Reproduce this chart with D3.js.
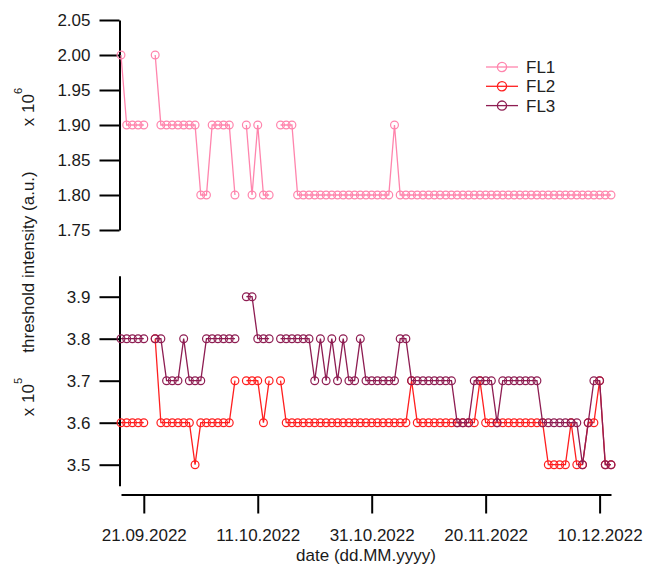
<!DOCTYPE html>
<html>
<head>
<meta charset="utf-8">
<script src="https://cdn.jsdelivr.net/npm/d3@7"></script>
<style>
  body { margin: 0; background: #fff; }
  svg { display: block; font-family: "Liberation Sans", Arial, sans-serif; }
  .axis path, .axis line { stroke: #000; stroke-width: 2; }
  .axis text { fill: #1a1a1a; font-size: 17px; }
</style>
</head>
<body>
<svg class="chart" width="645" height="567"></svg>
<script>
// one reading per day, 17.09.2022 .. 12.12.2022 (null = no measurement)
var firstDay = new Date(2022, 8, 17);
var lastDay = new Date(2022, 11, 12);
var days = d3.timeDay.range(firstDay, d3.timeDay.offset(lastDay, 1));

// FL1, x 10^6
var fl1 = [
  2.00, 1.90, 1.90, 1.90, 1.90, null, 2.00, 1.90, 1.90, 1.90,
  1.90, 1.90, 1.90, 1.90, 1.80, 1.80, 1.90, 1.90, 1.90, 1.90,
  1.80, null, 1.90, 1.80, 1.90, 1.80, 1.80, null, 1.90, 1.90,
  1.90, 1.80, 1.80, 1.80, 1.80, 1.80, 1.80, 1.80, 1.80, 1.80,
  1.80, 1.80, 1.80, 1.80, 1.80, 1.80, 1.80, 1.80, 1.90, 1.80,
  1.80, 1.80, 1.80, 1.80, 1.80, 1.80, 1.80, 1.80, 1.80, 1.80,
  1.80, 1.80, 1.80, 1.80, 1.80, 1.80, 1.80, 1.80, 1.80, 1.80,
  1.80, 1.80, 1.80, 1.80, 1.80, 1.80, 1.80, 1.80, 1.80, 1.80,
  1.80, 1.80, 1.80, 1.80, 1.80, 1.80, 1.80
];

// FL2, x 10^5
var fl2 = [
  3.6, 3.6, 3.6, 3.6, 3.6, null, 3.8, 3.6, 3.6, 3.6,
  3.6, 3.6, 3.6, 3.5, 3.6, 3.6, 3.6, 3.6, 3.6, 3.6,
  3.7, null, 3.7, 3.7, 3.7, 3.6, 3.7, null, 3.7, 3.6,
  3.6, 3.6, 3.6, 3.6, 3.6, 3.6, 3.6, 3.6, 3.6, 3.6,
  3.6, 3.6, 3.6, 3.6, 3.6, 3.6, 3.6, 3.6, 3.6, 3.6,
  3.6, 3.7, 3.6, 3.6, 3.6, 3.6, 3.6, 3.6, 3.6, 3.6,
  3.6, 3.6, 3.6, 3.7, 3.6, 3.6, 3.6, 3.6, 3.6, 3.6,
  3.6, 3.6, 3.6, 3.6, 3.6, 3.5, 3.5, 3.5, 3.5, 3.6,
  3.5, 3.5, 3.6, 3.6, 3.7, 3.5, 3.5
];

// FL3, x 10^5
var fl3 = [
  3.8, 3.8, 3.8, 3.8, 3.8, null, 3.8, 3.8, 3.7, 3.7,
  3.7, 3.8, 3.7, 3.7, 3.7, 3.8, 3.8, 3.8, 3.8, 3.8,
  3.8, null, 3.9, 3.9, 3.8, 3.8, 3.8, null, 3.8, 3.8,
  3.8, 3.8, 3.8, 3.8, 3.7, 3.8, 3.7, 3.8, 3.7, 3.8,
  3.7, 3.7, 3.8, 3.7, 3.7, 3.7, 3.7, 3.7, 3.7, 3.8,
  3.8, 3.7, 3.7, 3.7, 3.7, 3.7, 3.7, 3.7, 3.7, 3.6,
  3.6, 3.6, 3.7, 3.7, 3.7, 3.7, 3.6, 3.7, 3.7, 3.7,
  3.7, 3.7, 3.7, 3.7, 3.6, 3.6, 3.6, 3.6, 3.6, 3.6,
  3.6, 3.5, 3.6, 3.7, 3.7, 3.5, 3.5
];

var topTicks = [1.75, 1.80, 1.85, 1.90, 1.95, 2.00, 2.05];
var bottomTicks = [3.5, 3.6, 3.7, 3.8, 3.9];
var dateTicks = [new Date(2022, 8, 21), new Date(2022, 9, 11), new Date(2022, 9, 31),
                 new Date(2022, 10, 20), new Date(2022, 11, 10)];
var seriesNames = ["FL1", "FL2", "FL3"];

var colors = { FL1: "#ff85ad", FL2: "#ff1f1f", FL3: "#8e1d52" };

var svg = d3.select("svg.chart");

var x = d3.scaleTime().domain([firstDay, lastDay]).range([121, 611]);
var yTop = d3.scaleLinear().domain([1.75, 2.05]).range([230, 20]);
var yBot = d3.scaleLinear().domain([3.45, 3.95]).range([485.7, 275.7]);

// axes
svg.append("g").attr("class", "axis")
    .attr("transform", "translate(119.5,0)")
    .call(d3.axisLeft(yTop).tickValues(topTicks).tickFormat(d3.format(".2f"))
        .tickSize(20).tickSizeOuter(0).tickPadding(9));

svg.append("g").attr("class", "axis")
    .attr("transform", "translate(119.5,0)")
    .call(d3.axisLeft(yBot).tickValues(bottomTicks).tickFormat(d3.format(".1f"))
        .tickSize(20).tickSizeOuter(0).tickPadding(9));

svg.append("g").attr("class", "axis")
    .attr("transform", "translate(0,494.5)")
    .call(d3.axisBottom(x).tickValues(dateTicks).tickFormat(d3.timeFormat("%d.%m.%Y"))
        .tickSize(19).tickSizeOuter(0).tickPadding(15));

svg.selectAll(".axis .domain").attr("fill", "none");

// titles
svg.append("text")
    .attr("x", 366).attr("y", 561)
    .attr("text-anchor", "middle")
    .attr("font-size", "17px").attr("fill", "#1a1a1a")
    .text("date (dd.MM.yyyy)");

svg.append("text")
    .attr("transform", "translate(34,262) rotate(-90)")
    .attr("text-anchor", "middle")
    .attr("font-size", "17px").attr("fill", "#1a1a1a")
    .text("threshold intensity (a.u.)");

function powerLabel(cy, exp) {
    var t = svg.append("text")
        .attr("transform", "translate(34," + cy + ") rotate(-90)")
        .attr("text-anchor", "middle")
        .attr("font-size", "17px").attr("fill", "#1a1a1a");
    t.append("tspan").text("x 10");
    t.append("tspan").attr("dy", -12).attr("font-size", "11px").text(exp);
}
powerLabel(107, "6");
powerLabel(397, "5");

// series
function drawSeries(values, yScale, name) {
    var pts = days.map(function(d, i) { return { date: d, v: values[i] }; });
    var col = colors[name];
    var line = d3.line()
        .defined(function(d) { return d.v != null; })
        .x(function(d) { return x(d.date); })
        .y(function(d) { return yScale(d.v); });

    svg.append("path")
        .datum(pts)
        .attr("d", line)
        .attr("fill", "none")
        .attr("stroke", col)
        .attr("stroke-width", 1.3);

    svg.append("g").selectAll("circle")
        .data(pts.filter(function(d) { return d.v != null; }))
        .enter().append("circle")
        .attr("cx", function(d) { return x(d.date); })
        .attr("cy", function(d) { return yScale(d.v); })
        .attr("r", 3.9)
        .attr("fill", "none")
        .attr("stroke", col)
        .attr("stroke-width", 1.2);
}

drawSeries(fl1, yTop, "FL1");
drawSeries(fl2, yBot, "FL2");
drawSeries(fl3, yBot, "FL3");

// legend
var legend = svg.append("g").attr("transform", "translate(486,67)");
seriesNames.forEach(function(name, i) {
    var row = legend.append("g").attr("transform", "translate(0," + (i * 19.3) + ")");
    row.append("line")
        .attr("x1", 0).attr("x2", 32).attr("y1", 0).attr("y2", 0)
        .attr("stroke", colors[name]).attr("stroke-width", 1.3);
    row.append("circle")
        .attr("cx", 16).attr("cy", 0).attr("r", 4.6)
        .attr("fill", "none").attr("stroke", colors[name]).attr("stroke-width", 1.3);
    row.append("text")
        .attr("x", 40).attr("y", 0).attr("dy", "0.36em")
        .attr("font-size", "17px").attr("fill", "#222")
        .text(name);
});
</script>
</body>
</html>
